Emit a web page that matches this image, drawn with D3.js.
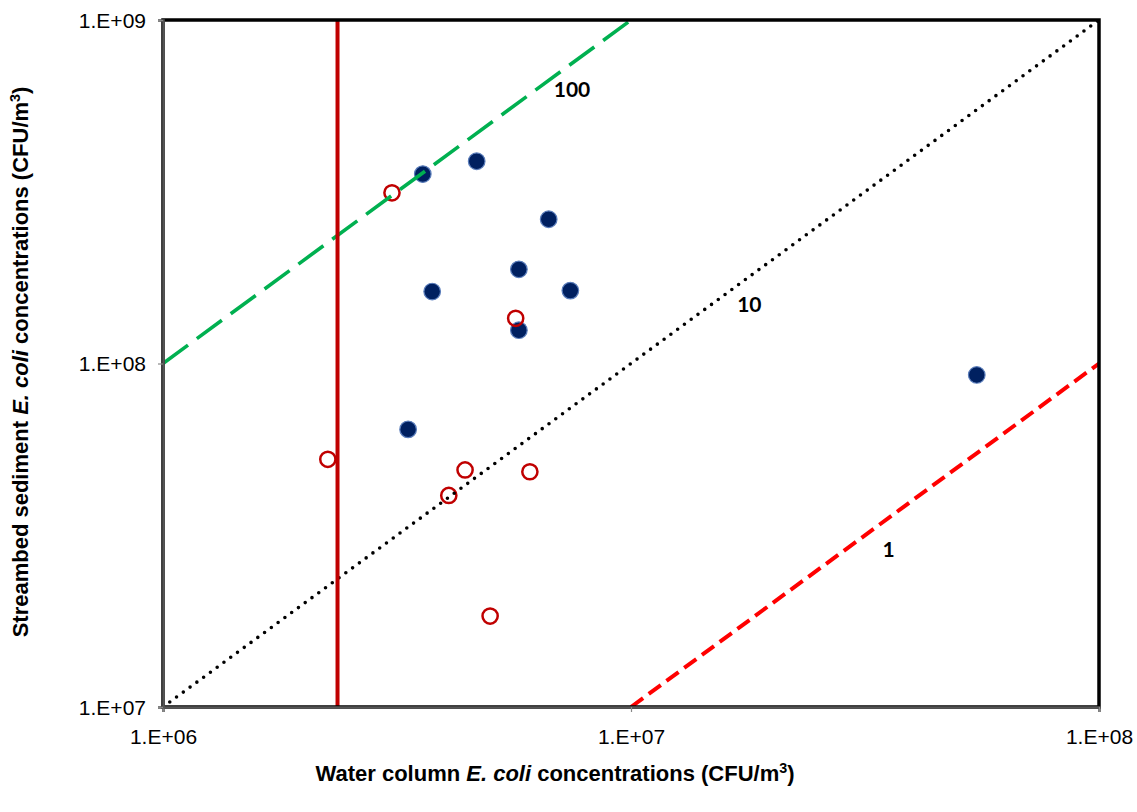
<!DOCTYPE html>
<html>
<head>
<meta charset="utf-8">
<script src="https://cdn.jsdelivr.net/npm/d3@7"></script>
<style>
  body { margin: 0; background: #fff; }
  svg { display: block; }
</style>
</head>
<body>
<svg id="chart" width="1137" height="812"></svg>
<script>
// Water column (x) vs streambed sediment (y) E. coli, CFU/m3
const filledX = [3.59e6, 4.68e6, 6.67e6, 5.76e6, 3.76e6, 7.42e6, 5.76e6, 3.34e6, 5.48e7];
const filledY = [3.56e8, 3.88e8, 2.63e8, 1.88e8, 1.62e8, 1.63e8, 1.25e8, 6.43e7, 9.26e7];
const openX = [3.085e6, 5.67e6, 2.25e6, 4.42e6, 4.08e6, 6.08e6, 5.00e6];
const openY = [3.14e8, 1.354e8, 5.26e7, 4.90e7, 4.13e7, 4.84e7, 1.84e7];

// Reference ratio lines (sediment / water = ratio) and their labels
const ratios = [100, 10, 1];
const ratioLabelX = [7.48e6, 1.79e7, 3.55e7];
const ratioLabelY = [6.3e8, 1.5e8, 2.9e7];
const thresholdX = 2.36e6;

const xTicks = [1e6, 1e7, 1e8];
const yTicks = [1e7, 1e8, 1e9];
const xTickLabels = ["1.E+06", "1.E+07", "1.E+08"];
const yTickLabels = ["1.E+07", "1.E+08", "1.E+09"];

const svg = d3.select("#chart");
const pL = 163, pR = 1099, pT = 20, pB = 707;

const x = d3.scaleLog().domain([1e6, 1e8]).range([pL, pR]);
const y = d3.scaleLog().domain([1e7, 1e9]).range([pB, pT]);

const plot = svg.append("g");
plot.append("clipPath").attr("id", "clip")
  .append("rect").attr("x", pL).attr("y", pT)
  .attr("width", pR - pL).attr("height", pB - pT);

// Markers
plot.selectAll("circle.filled").data(filledX).enter().append("circle")
  .attr("class", "filled")
  .attr("cx", d => x(d))
  .attr("cy", (d, i) => y(filledY[i]))
  .attr("r", 8.3)
  .attr("fill", "#002060")
  .attr("stroke", "#5a7dbb")
  .attr("stroke-width", 1.2);

plot.selectAll("circle.open").data(openX).enter().append("circle")
  .attr("class", "open")
  .attr("cx", d => x(d))
  .attr("cy", (d, i) => y(openY[i]))
  .attr("r", 7.6)
  .attr("fill", "none")
  .attr("stroke", "#c00000")
  .attr("stroke-width", 2.5);

// Ratio lines
const lineStyles = [
  { color: "#00b050", width: 3.6, dash: "31,11", cap: "butt" },
  { color: "#000", width: 3.6, dash: "0,8.4", cap: "round" },
  { color: "#ff0000", width: 4, dash: "15,7", cap: "butt" }
];
const lines = plot.append("g").attr("clip-path", "url(#clip)");
ratios.forEach((r, i) => {
  const s = lineStyles[i];
  const lo = Math.max(1e6, 1e7 / r), hi = Math.min(1e8, 1e9 / r);
  lines.append("line")
    .attr("x1", x(lo)).attr("y1", y(lo * r))
    .attr("x2", x(hi)).attr("y2", y(hi * r))
    .attr("stroke", s.color)
    .attr("stroke-width", s.width)
    .attr("stroke-dasharray", s.dash)
    .attr("stroke-linecap", s.cap);
});

// Vertical threshold line
plot.append("line")
  .attr("x1", x(thresholdX)).attr("x2", x(thresholdX))
  .attr("y1", y(1e9)).attr("y2", y(1e7))
  .attr("stroke", "#c00000").attr("stroke-width", 4);

// Ratio labels
plot.selectAll("text.ratio").data(ratios).enter().append("text")
  .attr("class", "ratio")
  .attr("x", (d, i) => x(ratioLabelX[i]))
  .attr("y", (d, i) => y(ratioLabelY[i]))
  .attr("text-anchor", "middle")
  .attr("dominant-baseline", "central")
  .attr("font-family", "Lato, 'Open Sans', sans-serif")
  .attr("font-weight", "bold")
  .attr("font-size", 21)
  .attr("fill", "#000")
  .text(d => d);

// Plot frame
svg.append("rect")
  .attr("x", pL).attr("y", pT)
  .attr("width", pR - pL).attr("height", pB - pT)
  .attr("fill", "none").attr("stroke", "#000").attr("stroke-width", 3.5);

// Axes
const xAxis = d3.axisBottom(x).tickValues(xTicks)
  .tickFormat((d, i) => xTickLabels[i]).tickSize(5).tickPadding(14);
const yAxis = d3.axisLeft(y).tickValues(yTicks)
  .tickFormat((d, i) => yTickLabels[i]).tickSize(5).tickPadding(12);

const gx = svg.append("g").attr("transform", `translate(0,${pB})`).call(xAxis);
const gy = svg.append("g").attr("transform", `translate(${pL},0)`).call(yAxis);
[gx, gy].forEach(g => {
  g.select(".domain").attr("stroke", "#555").attr("stroke-width", 2.5);
  g.selectAll(".tick line").attr("stroke", "#888").attr("stroke-width", 1.2);
  g.selectAll(".tick text")
    .attr("font-family", "'Liberation Sans', Arial, sans-serif")
    .attr("font-size", 21).attr("fill", "#000");
});
gx.selectAll(".tick text").attr("dy", "0.85em");
gy.selectAll(".tick text").attr("dy", "0.35em");

// Axis titles
function title(sel, prefix) {
  sel.append("tspan").text(prefix);
  sel.append("tspan").attr("font-style", "italic").text("E. coli");
  sel.append("tspan").text(" concentrations (CFU/m");
  sel.append("tspan").attr("font-size", "0.65em").attr("dy", "-0.55em").text("3");
  sel.append("tspan").attr("dy", "0.35em").text(")");
}

const xt = svg.append("text")
  .attr("x", 555).attr("y", 781)
  .attr("text-anchor", "middle")
  .attr("font-family", "'Liberation Sans', Arial, sans-serif")
  .attr("font-weight", "bold").attr("font-size", 22).attr("fill", "#000");
title(xt, "Water column ");

const yt = svg.append("text")
  .attr("transform", `translate(28,362) rotate(-90)`)
  .attr("text-anchor", "middle")
  .attr("font-family", "'Liberation Sans', Arial, sans-serif")
  .attr("font-weight", "bold").attr("font-size", 22).attr("fill", "#000");
title(yt, "Streambed sediment ");
</script>
</body>
</html>
